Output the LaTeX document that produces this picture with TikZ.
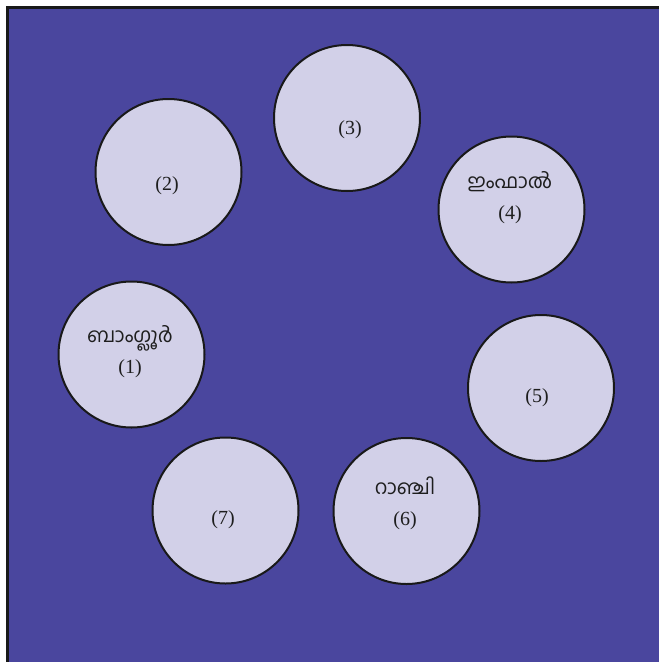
\documentclass[tikz,border=0pt]{standalone}
\usepackage{fontspec}
\newfontfamily\malfont[Script=Malayalam]{Hind Kochi}
\newfontfamily\numfont{Liberation Serif}
\definecolor{bgblue}{RGB}{74,70,158}
\definecolor{discfill}{RGB}{210,208,232}
\definecolor{inkgray}{RGB}{30,30,30}
\tikzstyle{citybox} = [circle, draw=black!90, fill=discfill, line width=2pt,
                       minimum size=146pt, inner sep=0pt]
\tikzstyle{citytext} = [text=inkgray, align=center, inner sep=0pt,
                        font=\numfont\fontsize{20}{31}\selectfont]
\newcommand{\maltext}[1]{{\malfont\fontsize{20}{31}\selectfont #1}}
\begin{document}
\begin{tikzpicture}[x=1pt, y=-1pt]
    \useasboundingbox (0,0) rectangle (659,662);
    % Background panel
    \draw[line width=3pt, draw=black!90, fill=bgblue] (7.5,7.5) rectangle (690,690);
    
    % Discs
    \node[citybox] (bangalore) at (131.5,354.5) {};
    \node[citybox] (disc2) at (168.5,172) {};
    \node[citybox] (disc3) at (347,118) {};
    \node[citybox] (imphal) at (511.5,209.5) {};
    \node[citybox] (disc5) at (541,388) {};
    \node[citybox] (ranchi) at (406.5,511) {};
    \node[citybox] (disc7) at (225.5,510.5) {};
    
    % Labels
    \node[citytext] (bangaloreT) at (130,352) {\maltext{ബാംഗ്ലൂർ}\\(1)};
    \node[citytext] (disc2T) at (167,186) {(2)};
    \node[citytext] (disc3T) at (350,130) {(3)};
    \node[citytext] (imphalT) at (510,197.5) {\maltext{ഇംഫാൽ}\\(4)};
    \node[citytext] (disc5T) at (537,398) {(5)};
    \node[citytext] (ranchiT) at (405,503.5) {\maltext{റാഞ്ചി}\\(6)};
    \node[citytext] (disc7T) at (223,520) {(7)};
\end{tikzpicture}
\end{document}
